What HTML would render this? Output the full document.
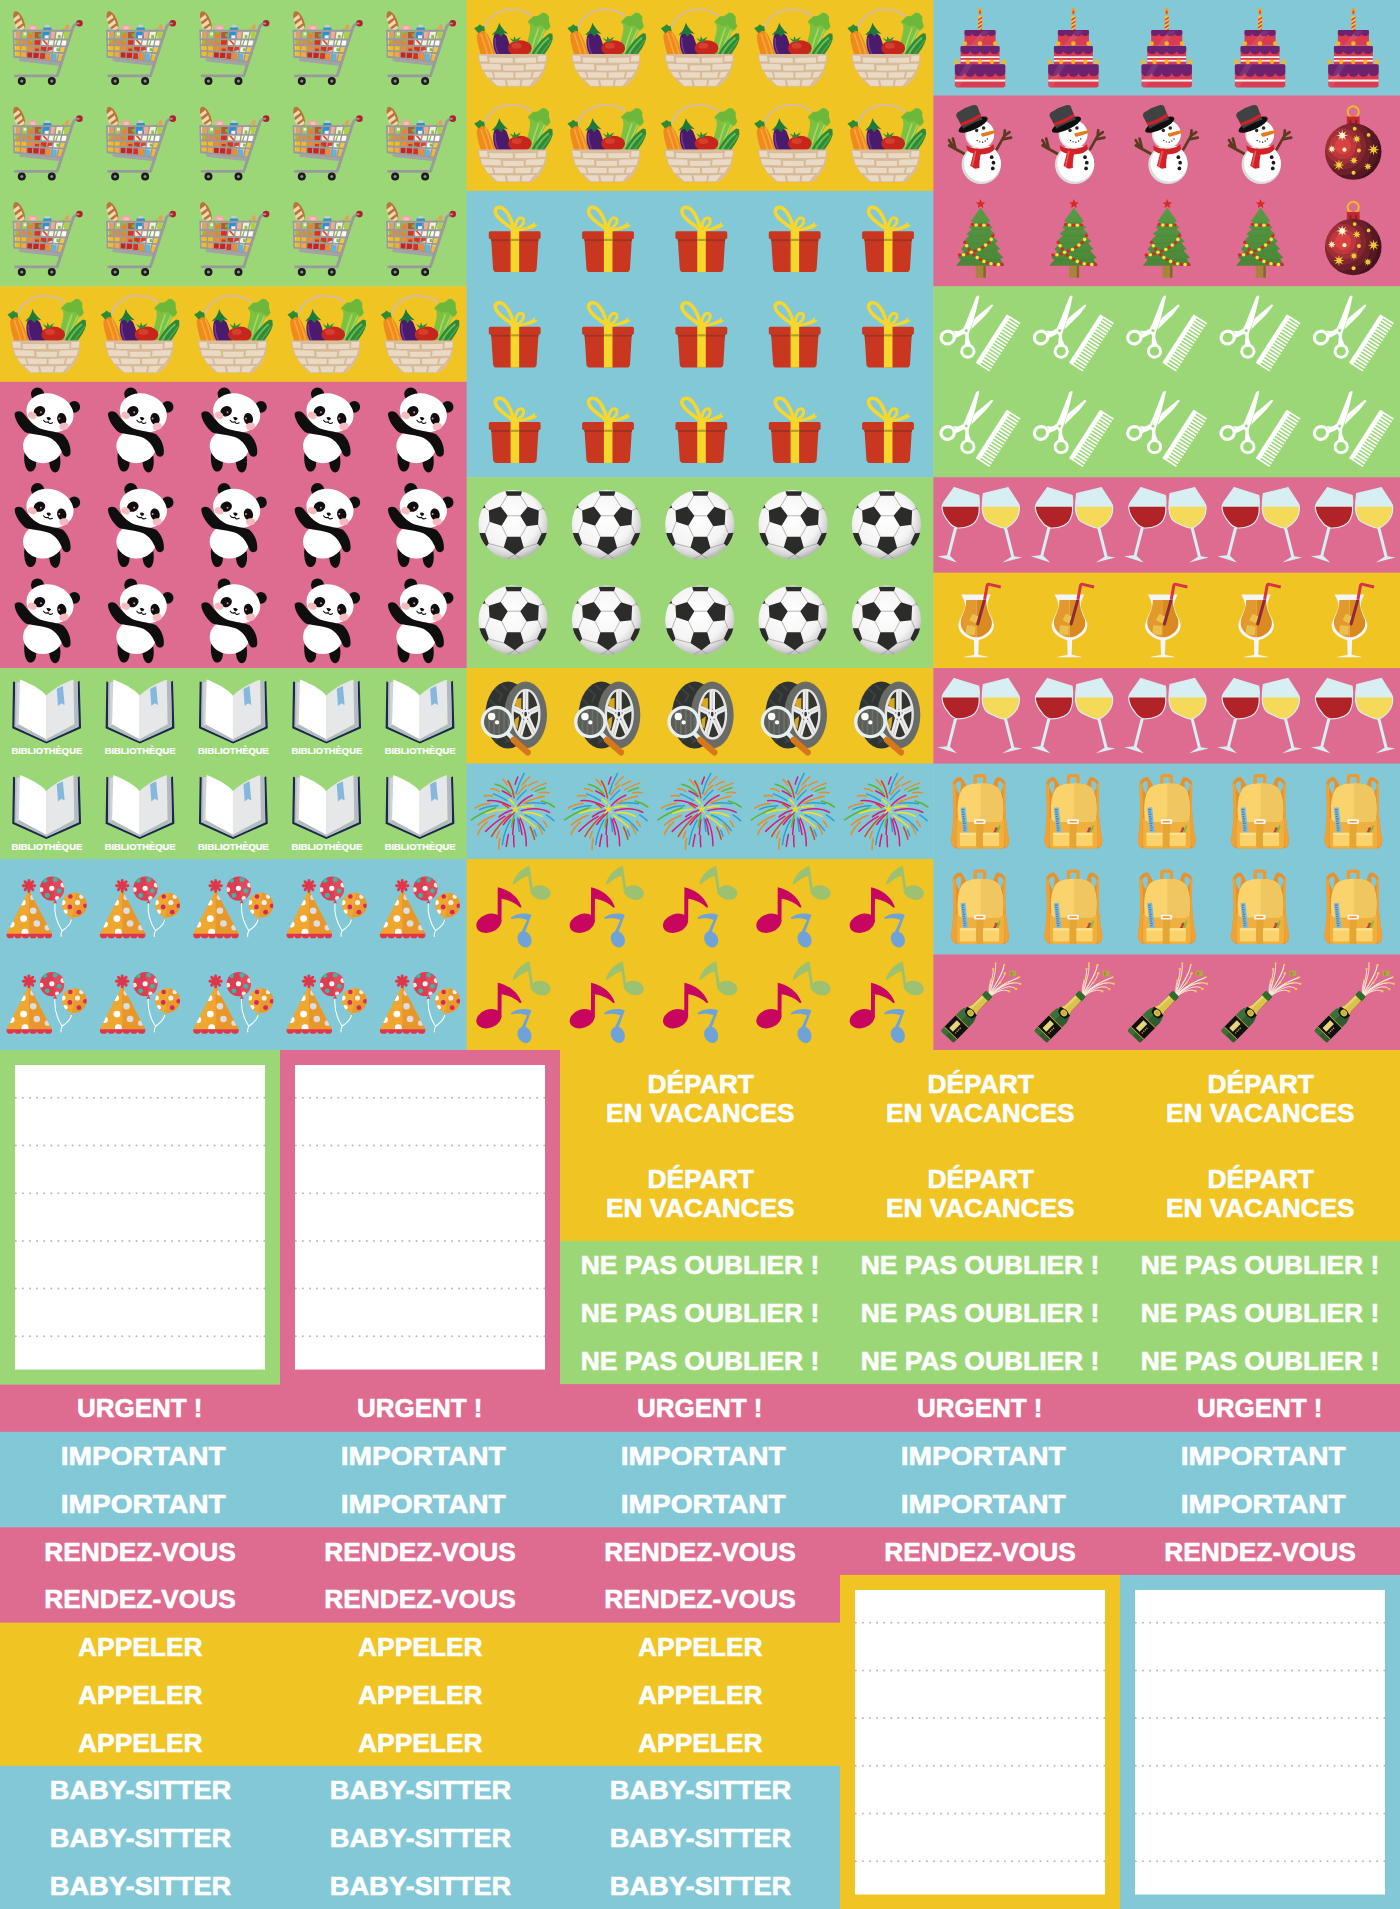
<!DOCTYPE html>
<html><head><meta charset="utf-8"><title>Stickers</title>
<style>html,body{margin:0;padding:0;background:#fff}svg{display:block}
text{font-family:"Liberation Sans",sans-serif;font-weight:bold;fill:#fff;text-anchor:middle;stroke:#fff;stroke-width:.6px;stroke-linejoin:round}</style></head>
<body><svg width="1400" height="1909" viewBox="0 0 1400 1909">
<defs>
<g id="backpack" transform="translate(-1.4 -2.5) scale(0.0714286)">
<!-- handle -->
<path d="M605,320 L605,230 Q605,205 630,205 L712,205 Q738,205 738,230 L738,320" fill="none" stroke="#ee9a2e" stroke-width="46"/>
<!-- straps / sides -->
<path d="M480,340 C450,280 420,230 395,225 C350,225 300,270 292,310 C300,560 320,800 270,1090 C265,1180 300,1225 380,1225 L980,1225 C1060,1225 1085,1180 1078,1090 C1020,800 1020,560 1032,310 C1020,270 970,225 915,225 C890,235 870,290 860,340 L960,560 L380,560Z" fill="#e8912a"/>
<path d="M330,330 C345,290 385,270 400,285 C420,330 400,420 385,470 C360,430 335,380 330,330Z M1000,330 C985,290 945,270 930,285 C915,330 930,420 945,470 C975,430 995,380 1000,330Z" fill="#82c8d6"/>
<path d="M292,310 C300,560 320,800 270,1090 C268,1150 290,1200 330,1215 C340,900 350,600 330,330Z M1032,310 C1020,560 1020,800 1078,1090 C1080,1150 1060,1200 1020,1215 C1010,900 1000,600 1000,330Z" fill="#f0a235"/>
<!-- lower body -->
<path d="M345,800 L1005,800 L1012,1170 Q1012,1225 960,1225 L395,1225 Q340,1225 340,1170Z" fill="#efb040"/>
<rect x="622" y="860" width="100" height="365" fill="#e6a636"/>
<!-- ruler -->
<path d="M855,1000 L905,925 L925,940 L895,1005Z" fill="#d23a2e"/><path d="M900,1005 L945,890 L962,915 L930,1005Z" fill="#7cbf3e"/><path d="M870,960 L895,925 L905,945Z" fill="#3a6fb0"/>
<!-- flap -->
<path d="M365,790 C350,650 360,500 420,400 C470,330 560,315 680,315 C800,315 890,330 940,400 C1000,500 1005,650 992,790 C985,840 950,855 900,855 L455,855 C405,855 372,840 365,790Z" fill="#fad36c"/>
<path d="M680,315 C800,315 890,330 940,400 C1000,500 1005,650 992,790 C985,840 950,855 900,855 L680,855Z" fill="#f0c661"/>
<g transform="rotate(-6 455 830)"><rect x="420" y="650" width="68" height="370" fill="#7bb9de"/><path d="M430,680 h40 M430,712 h30 M430,744 h40 M430,776 h30 M430,808 h40 M430,840 h30 M430,872 h40 M430,904 h30 M430,936 h40 M430,968 h30" stroke="#3c6f9a" stroke-width="12"/></g>
<!-- buckle -->
<rect x="590" y="815" width="160" height="68" rx="14" fill="#f6f4f0"/><rect x="618" y="838" width="104" height="22" rx="6" fill="#ee9a2e"/>
<!-- pockets -->
<rect x="390" y="1005" width="226" height="185" rx="12" fill="#fad36c"/><rect x="715" y="1005" width="226" height="185" rx="12" fill="#fad36c"/>
<path d="M390,1020 Q390,1005 405,1005 L600,1005 Q616,1005 616,1020 L616,1035 L390,1035Z M715,1020 Q715,1005 730,1005 L925,1005 Q941,1005 941,1020 L941,1035 L715,1035Z" fill="#fbe08e"/>
</g>

<g id="ball" transform="translate(-1.8 -2.5) scale(0.0714286)">
<defs><radialGradient id="ballg" cx="0.45" cy="0.4" r="0.6"><stop offset="0" stop-color="#ffffff"/><stop offset="0.7" stop-color="#f4f4f4"/><stop offset="0.9" stop-color="#d4d4d4"/><stop offset="1" stop-color="#b8b8b8"/></radialGradient>
<clipPath id="ballclip"><circle cx="675" cy="700" r="485"/></clipPath></defs>
<circle cx="675" cy="700" r="485" fill="url(#ballg)"/>
<g clip-path="url(#ballclip)">
<g fill="none" stroke="#8f8f8f" stroke-width="9">
<path d="M590,295 L500,445 M780,295 L880,450 M600,575 L775,575 M515,715 L590,870 M865,720 L780,870 M335,500 L270,455 M1035,500 L1100,470 M345,660 L285,815 M1025,700 L1075,820 M545,1020 L335,965 M825,1025 L1010,965 M700,1120 L580,1190 M700,1120 L790,1180"/>
</g>
<g fill="#2b2b29">
<path d="M568,232 L802,232 L782,296 L588,296Z"/>
<path d="M335,500 L500,445 L600,575 L515,715 L345,660Z"/>
<path d="M775,575 L880,450 L1035,500 L1025,700 L865,720Z"/>
<path d="M590,870 L780,870 L825,1025 L700,1120 L545,1020Z"/>
<path d="M185,815 L285,815 L335,962 L300,1005 L210,900Z"/>
<path d="M1075,820 L1165,812 L1120,920 L1058,1003 L1010,962Z"/>
<path d="M232,478 L272,415 L288,462Z"/>
<path d="M1068,418 L1140,525 L1098,478Z"/>
</g></g>
</g>

<g id="basket" transform="translate(0 -2.2) scale(0.0714286)">
<defs><clipPath id="bkclip"><path d="M160,785 L1125,785 C1125,900 1110,1000 1050,1100 C1000,1180 950,1225 900,1245 L440,1245 C380,1225 330,1180 280,1100 C200,1000 165,900 160,785Z"/></clipPath></defs>
<path d="M258,420 C300,250 480,150 660,165 C760,170 850,200 905,255" fill="none" stroke="#d8bca2" stroke-width="28"/>
<!-- celery -->
<path d="M850,610 C880,520 900,420 880,370 L850,340 L880,310 L930,260 L990,255 L1060,205 L1110,215 L1150,260 L1150,330 L1175,400 L1140,450 L1100,470 C1060,560 1000,680 940,790 L850,790Z" fill="#7cc142"/>
<path d="M900,760 C930,640 970,520 1010,420 M950,780 C990,660 1040,540 1090,440" stroke="#a5d867" stroke-width="22" fill="none"/>
<path d="M860,330 L935,265 L1000,260 L1065,210 L1110,220 L1150,265 L1150,330 L1170,400 L1135,445 L1090,430 L1040,380 L960,400Z" fill="#6db83a"/>
<!-- zucchini -->
<path d="M915,775 C960,680 1060,560 1160,495 L1200,505 L1205,570 C1190,650 1130,740 1080,800 L920,800Z" fill="#2f8a3c"/>
<path d="M960,790 C1010,700 1090,610 1150,560" stroke="#6cc04a" stroke-width="26" fill="none"/>
<path d="M1040,790 C1090,720 1150,650 1185,590" stroke="#56ad3e" stroke-width="16" fill="none"/>
<!-- corn -->
<path d="M140,520 C180,440 260,440 300,520 C340,600 380,700 410,800 L200,800 C170,700 140,600 140,520Z" fill="#ee8a1e"/>
<path d="M200,500 C230,600 270,700 290,790 M260,490 C300,590 340,700 360,790" stroke="#f7a934" stroke-width="22" fill="none"/>
<path d="M105,425 L160,395 L185,370 L215,395 L245,400 L255,470 L215,460 L165,495Z" fill="#2d8a35"/>
<!-- eggplant -->
<path d="M385,520 C420,470 520,470 560,540 C600,640 620,720 640,800 L420,800 C380,740 350,620 385,520Z" fill="#4a1b6d"/>
<path d="M400,560 C390,640 410,720 440,780" stroke="#7a3a9c" stroke-width="20" fill="none"/>
<path d="M455,350 L480,400 L530,460 L580,505 L520,495 L480,545 L440,500 L350,520 L410,460 L440,400Z" fill="#1f7a3a"/>
<!-- tomato -->
<ellipse cx="745" cy="705" rx="165" ry="110" fill="#c7261d"/><ellipse cx="700" cy="670" rx="70" ry="40" fill="#dd4a35" opacity=".7"/>
<path d="M600,560 L655,590 L665,535 L690,585 L760,545 L720,605 L680,625 L640,610Z" fill="#2d8a35"/>
<!-- body -->
<g clip-path="url(#bkclip)">
<rect x="150" y="780" width="990" height="470" fill="#d9bd9c"/>
<g fill="#ead9c4" stroke="#d0b08a" stroke-width="8">
<path d="M165,800 L290,805 L300,900 L180,895Z"/><path d="M305,830 L650,835 L655,915 L320,915Z"/><path d="M670,835 L980,830 L975,915 L675,915Z"/><path d="M995,805 L1120,800 L1110,895 L985,900Z"/>
<path d="M190,915 L480,925 L490,1015 L215,1010Z"/><path d="M500,940 L810,940 L800,1025 L510,1025Z"/><path d="M825,925 L1105,915 L1075,1010 L815,1015Z"/>
<path d="M235,1030 L355,1035 L385,1130 L290,1120Z"/><path d="M370,1035 L660,1040 L660,1125 L395,1125Z"/><path d="M675,1040 L920,1035 L895,1125 L675,1125Z"/><path d="M935,1035 L1060,1025 L1000,1120 L910,1125Z"/>
<path d="M330,1140 L540,1145 L555,1240 L430,1240Z"/><path d="M555,1145 L760,1145 L745,1240 L575,1240Z"/><path d="M775,1145 L960,1135 L880,1240 L760,1240Z"/>
</g></g>
</g>

<g id="bauble" transform="translate(-6.67 -2.5) scale(0.0714286)">
<defs><radialGradient id="baubg" gradientUnits="userSpaceOnUse" cx="600" cy="745" r="560"><stop offset="0" stop-color="#d84242"/><stop offset="0.2" stop-color="#d84242"/><stop offset="0.21" stop-color="#bd383c"/><stop offset="0.32" stop-color="#bd383c"/><stop offset="0.33" stop-color="#9f2e36"/><stop offset="0.44" stop-color="#9f2e36"/><stop offset="0.45" stop-color="#84262f"/><stop offset="0.57" stop-color="#84262f"/><stop offset="0.58" stop-color="#6b1f29"/><stop offset="0.72" stop-color="#6b1f29"/><stop offset="0.73" stop-color="#561923"/><stop offset="0.88" stop-color="#561923"/><stop offset="0.89" stop-color="#45131c"/><stop offset="1" stop-color="#45131c"/></radialGradient></defs>
<circle cx="745" cy="265" r="78" fill="none" stroke="#e8c21f" stroke-width="26"/>
<path d="M655,330 L835,330 L835,440 L655,440Z" fill="#c1282f"/><rect x="690" y="375" width="30" height="60" fill="#8e1e28"/><rect x="770" y="375" width="30" height="60" fill="#8e1e28"/>
<circle cx="745" cy="820" r="396" fill="url(#baubg)"/>
<polygon points="590,513 601,567 648,537 618,584 672,595 618,606 648,653 601,623 590,677 579,623 532,653 562,606 508,595 562,584 532,537 579,567" fill="#fbefb5"/><polygon points="590,555 618,567 630,595 618,623 590,635 562,623 550,595 562,567" fill="#fdf6d0"/><polygon points="795,587 805,621 836,604 819,635 853,645 819,655 836,686 805,669 795,703 785,669 754,686 771,655 737,645 771,635 754,604 785,621" fill="#f0cf3a"/><polygon points="445,730 455,761 484,746 469,775 500,785 469,795 484,824 455,809 445,840 435,809 406,824 421,795 390,785 421,775 406,746 435,761" fill="#fbefb5"/><polygon points="1030,713 1042,765 1088,737 1060,783 1112,795 1060,807 1088,853 1042,825 1030,877 1018,825 972,853 1000,807 948,795 1000,783 972,737 1018,765" fill="#eec83a"/><polygon points="755,889 765,921 795,905 779,935 811,945 779,955 795,985 765,969 755,1001 745,969 715,985 731,955 699,945 731,935 715,905 745,921" fill="#f0cf3a"/><polygon points="545,930 556,982 602,953 573,999 625,1010 573,1021 602,1067 556,1038 545,1090 534,1038 488,1067 517,1021 465,1010 517,999 488,953 534,982" fill="#f0cf3a"/><polygon points="950,974 960,1006 990,990 974,1020 1006,1030 974,1040 990,1070 960,1054 950,1086 940,1054 910,1070 926,1040 894,1030 926,1020 910,990 940,1006" fill="#eec83a"/><circle cx="765" cy="500" r="26" fill="#f0cf3a"/><circle cx="960" cy="588" r="26" fill="#eec83a"/><circle cx="622" cy="795" r="30" fill="#fbefb5"/><circle cx="825" cy="805" r="28" fill="#f0cf3a"/><circle cx="750" cy="1118" r="28" fill="#f0cf3a"/>
</g>

<g id="book" transform="translate(0 -3.1) scale(0.0714286)">
<path d="M182,230 L172,885 L650,1100 L1135,885 L1115,222 L1085,240 L1100,865 L650,1070 L205,865 L212,240Z" fill="#1b2a4b"/>
<path d="M212,240 L280,225 L270,840 L650,1025 L1040,840 L1030,230 L1088,240 L1102,866 L650,1072 L204,866Z" fill="#b4bac3"/>
<path d="M232,245 L285,230 L268,835 L228,858Z" fill="#cdd2d8"/>
<path d="M280,205 C420,260 560,330 650,430 L650,1040 L262,830Z" fill="#ffffff"/>
<path d="M646,430 C740,340 880,260 1028,205 L1040,830 L646,1040Z" fill="#e5e7e9"/>
<path d="M795,335 L880,290 L905,560 L860,535 L812,575Z" fill="#86b8de"/>
<text x="655" y="1252" font-size="118" textLength="990" lengthAdjust="spacingAndGlyphs" style="stroke-width:3px">BIBLIOTHÈQUE</text>
</g>

<g id="cake" transform="translate(-1.3 0) scale(0.0714286)">
<defs><clipPath id="candle"><rect x="645" y="225" width="56" height="195" rx="12"/></clipPath></defs>
<ellipse cx="672" cy="160" rx="26" ry="50" fill="#f6a41e"/><ellipse cx="672" cy="172" rx="14" ry="30" fill="#e8463c"/>
<rect x="645" y="225" width="56" height="195" rx="12" fill="#f7c62a"/>
<g clip-path="url(#candle)" stroke="#e0364a" stroke-width="20"><path d="M630,290 L715,235 M630,345 L715,290 M630,400 L715,345 M630,455 L715,400"/></g>
<!-- top tier -->
<path d="M455,440 Q455,420 475,420 L870,420 Q890,420 890,440 L890,640 L455,640Z" fill="#da3b51"/>
<path d="M455,440 Q455,420 475,420 L870,420 Q890,420 890,440 L890,455 a54,42 0 0 1 -108,12 a54,42 0 0 1 -108,0 a54,42 0 0 1 -108,0 a54,42 0 0 1 -111,-12Z" fill="#6d2270"/>
<!-- mid tier -->
<path d="M400,665 Q400,645 420,645 L925,645 Q945,645 945,665 L945,895 L400,895Z" fill="#da3b51"/>
<rect x="400" y="788" width="545" height="24" fill="#fdf3ee"/><rect x="400" y="838" width="545" height="24" fill="#fdf3ee"/>
<path d="M400,665 Q400,645 420,645 L925,645 Q945,645 945,665 L945,700 a68,52 0 0 1 -136,10 a68,52 0 0 1 -136,0 a68,52 0 0 1 -136,0 a68,52 0 0 1 -137,-10Z" fill="#6d2270"/>
<!-- bottom tier -->
<path d="M320,920 Q320,898 342,898 L1003,898 Q1025,898 1025,920 L1025,1195 Q1025,1225 995,1225 L350,1225 Q320,1225 320,1195Z" fill="#da3b51"/>
<rect x="320" y="1114" width="705" height="28" fill="#fdf3ee"/>
<path d="M320,920 Q320,898 342,898 L1003,898 Q1025,898 1025,920 L1025,1005 a70,58 0 0 1 -141,10 a70,58 0 0 1 -141,0 a70,58 0 0 1 -141,0 a70,58 0 0 1 -141,0 a70,58 0 0 1 -141,-10Z" fill="#6d2270"/>
<path d="M700,430 L800,430 L640,640 L540,640Z M470,900 L560,900 L380,1220 L325,1220 L325,1150Z" fill="#fff" opacity=".08"/>
<g fill="#f5b81f"><circle cx="460" cy="610" r="32"/><circle cx="672" cy="610" r="32"/><circle cx="885" cy="610" r="32"/>
<circle cx="340" cy="866" r="32"/><circle cx="502" cy="866" r="32"/><circle cx="670" cy="866" r="32"/><circle cx="838" cy="866" r="32"/><circle cx="1002" cy="866" r="32"/></g>
</g>

<g id="cart" transform="translate(0 0) scale(0.0714286)">
<defs><clipPath id="cartclip"><path d="M195,440 L975,440 L862,868 L205,792Z"/></clipPath></defs>
<ellipse cx="268" cy="300" rx="66" ry="152" transform="rotate(-22 268 300)" fill="#b8743e"/>
<g fill="#f3d6ab"><path d="M186,262 L262,203 L282,247 L197,308Z"/><path d="M207,350 L300,278 L318,325 L222,395Z"/><path d="M232,432 L332,356 L348,398 L255,455Z"/></g>
<ellipse cx="458" cy="388" rx="66" ry="42" fill="#f3a4a2"/><ellipse cx="462" cy="392" rx="40" ry="22" fill="#f7c0ba"/>
<rect x="628" y="348" width="66" height="45" rx="8" fill="#c5cbd3"/><rect x="604" y="385" width="118" height="60" rx="14" fill="#2e90d2"/>
<path d="M905,400 C905,360 940,335 962,345 C975,370 965,410 950,420Z" fill="#ec9d5c"/>
<ellipse cx="808" cy="415" rx="26" ry="14" fill="#f1a392"/><ellipse cx="885" cy="415" rx="22" ry="12" fill="#8cc63f"/>
<g clip-path="url(#cartclip)">
<rect x="180" y="430" width="820" height="450" fill="#f4e9d2"/>
<g>
<rect x="215" y="440" width="90" height="105" fill="#d7a169"/><rect x="305" y="440" width="85" height="105" fill="#9ccb5a"/><rect x="330" y="455" width="40" height="40" fill="#f2ead8"/>
<rect x="390" y="440" width="90" height="105" fill="#ee7f22"/><rect x="400" y="440" width="50" height="40" fill="#7fbf3f"/>
<rect x="480" y="440" width="110" height="105" fill="#b45a32"/><rect x="540" y="470" width="45" height="45" fill="#6fb83a"/>
<rect x="590" y="440" width="120" height="105" fill="#2e90d2"/><rect x="625" y="495" width="60" height="45" fill="#f3efe6"/>
<rect x="710" y="440" width="75" height="105" fill="#f4a98f"/><rect x="785" y="440" width="110" height="105" fill="#eef0dc"/><rect x="810" y="490" width="40" height="50" fill="#8cc63f"/>
<rect x="895" y="440" width="90" height="105" fill="#a9d43c"/>
<rect x="215" y="545" width="85" height="90" fill="#f08a2a"/><rect x="215" y="545" width="40" height="60" fill="#8cc63f"/><rect x="300" y="545" width="85" height="90" fill="#c99058"/>
<rect x="385" y="545" width="95" height="90" fill="#ee7f22"/><rect x="420" y="555" width="40" height="35" fill="#7fbf3f"/>
<rect x="480" y="545" width="100" height="95" fill="#d9301f"/><rect x="580" y="545" width="110" height="100" fill="#f6e9dc"/><path d="M590,560 L660,640 L690,640 L620,560Z" fill="#e0442e"/>
<rect x="690" y="545" width="85" height="105" fill="#f7f3e4"/><rect x="775" y="545" width="175" height="110" fill="#fbfbf6"/><path d="M770,640 L800,560 L815,560 L790,645Z" fill="#7fbf3f"/><rect x="925" y="545" width="30" height="110" fill="#b7da52"/>
<rect x="215" y="630" width="160" height="85" fill="#f6bb1c"/><rect x="375" y="635" width="85" height="85" fill="#ee8c2c"/><rect x="460" y="640" width="95" height="90" fill="#ef7d22"/><rect x="490" y="680" width="55" height="45" fill="#d9301f"/>
<rect x="555" y="645" width="100" height="95" fill="#d9301f"/><rect x="565" y="700" width="40" height="35" fill="#5aa832"/><rect x="655" y="655" width="90" height="95" fill="#e23b28"/><path d="M640,740 Q720,670 800,720 L800,760 L640,760Z" fill="#cfdde6"/>
<rect x="745" y="660" width="95" height="100" fill="#f4f4ee"/><rect x="790" y="675" width="35" height="40" fill="#7fbf3f"/><rect x="840" y="665" width="80" height="100" fill="#f6c53a"/>
<rect x="215" y="715" width="70" height="85" fill="#f6bb1c"/><rect x="285" y="718" width="90" height="85" fill="#f2a93b"/><rect x="375" y="722" width="170" height="95" fill="#c9231e"/><rect x="545" y="735" width="85" height="95" fill="#d9301f"/>
<rect x="630" y="745" width="80" height="100" fill="#ee8c2c"/><rect x="710" y="755" width="85" height="100" fill="#5fb5dc"/><rect x="795" y="765" width="80" height="100" fill="#f4b53a"/>
</g></g>
<g stroke="#9a9a9c" fill="none" stroke-linecap="round">
<path d="M190,430 L985,430 M200,548 L955,552 M205,632 L935,652 M205,712 L912,745 M200,795 L865,872" stroke-width="27"/>
<path d="M190,430 L200,795" stroke-width="24"/>
<path d="M300,435 L285,805 M388,435 L372,815 M478,435 L455,825 M590,435 L545,835 M705,435 L630,845 M785,435 L712,855 M892,435 L795,865" stroke-width="19"/>
<path d="M290,838 L850,900" stroke-width="46" stroke="#a3a3a5"/>
<path d="M1100,325 Q1045,335 1025,375 L800,1063 L215,1063" stroke-width="40" stroke-linejoin="round"/>
</g>
<circle cx="1112" cy="325" r="46" fill="#b2202c"/><ellipse cx="1090" cy="328" rx="26" ry="14" fill="#9a9a9c"/>
<circle cx="305" cy="1135" r="56" fill="#1c1c1c"/><circle cx="305" cy="1135" r="22" fill="#8d8d8d"/>
<circle cx="725" cy="1135" r="56" fill="#1c1c1c"/><circle cx="725" cy="1135" r="22" fill="#8d8d8d"/>
</g>

<g id="champagne" transform="translate(-1.3 -2.5) scale(0.0714286)">
<g fill="none" stroke="#f8ecd6" stroke-linecap="round" stroke-width="13">
<path d="M805,585 C830,450 900,330 890,165"/><path d="M815,585 C880,450 990,330 1008,185" stroke-width="16"/><path d="M820,590 C900,470 1000,400 1018,300"/>
<path d="M825,595 C930,480 1100,400 1218,357" stroke-width="16"/><path d="M830,600 C960,470 1130,400 1232,445"/><path d="M835,605 C960,500 1110,450 1172,518"/>
<path d="M835,610 C920,540 1020,520 1072,548"/><path d="M805,580 C800,450 870,330 856,242"/><path d="M800,575 C790,500 810,440 822,402" stroke-width="10"/><path d="M812,580 C840,500 850,420 862,368" stroke-width="10"/><path d="M822,590 C870,520 920,470 950,432" stroke-width="10"/>
<path d="M828,596 C900,520 980,470 1045,432" stroke-width="10"/><path d="M830,600 C930,500 1060,440 1140,432" stroke-width="10"/>
</g>
<g fill="#f4c736"><circle cx="890" cy="160" r="16"/><circle cx="1010" cy="182" r="17"/><circle cx="1020" cy="298" r="18"/><circle cx="1222" cy="355" r="15"/><circle cx="1236" cy="446" r="17"/><circle cx="1175" cy="520" r="17"/><circle cx="1076" cy="550" r="18"/><circle cx="856" cy="238" r="17"/><circle cx="822" cy="402" r="16"/><circle cx="862" cy="366" r="15"/><circle cx="950" cy="432" r="16"/><circle cx="1045" cy="432" r="15"/><circle cx="1140" cy="432" r="15"/></g>
<rect x="1080" y="262" width="100" height="80" rx="10" fill="#b8a24c"/><rect x="1100" y="280" width="26" height="50" fill="#a08c3c"/>
<g transform="translate(226 1174) rotate(-45.6) scale(1.02 1.17)">
<!-- body -->
<path d="M0,-105 Q-22,-105 -22,-80 L-22,80 Q-22,105 0,105 L360,105 C440,100 470,60 540,50 L800,50 L800,-50 L540,-50 C470,-60 440,-100 360,-105Z" fill="#2f5c2d"/>
<path d="M0,-105 Q-22,-105 -22,-80 L-22,-20 L800,-10 L800,-50 L540,-50 C470,-60 440,-100 360,-105Z" fill="#3d6f38"/>
<!-- foil -->
<path d="M470,-72 C500,-58 520,-50 545,-50 L730,-46 L730,46 L545,50 C520,50 500,58 470,72 C455,40 455,-40 470,-72Z" fill="#dcc24a"/>
<path d="M470,-72 C500,-58 520,-50 545,-50 L730,-46 L730,-15 L470,-25Z" fill="#e8d468"/>
<!-- cap -->
<rect x="722" y="-54" width="86" height="108" rx="18" fill="#2e6b2e"/>
<!-- neck label -->
<path d="M395,-60 L470,-78 L492,0 L470,78 L395,60 L375,0Z" fill="#111"/>
<circle cx="438" cy="0" r="42" fill="#dcc24a"/><circle cx="438" cy="0" r="26" fill="#c9ae3a"/>
<!-- main label -->
<rect x="45" y="-106" width="235" height="212" fill="#111"/>
<rect x="45" y="-106" width="10" height="212" fill="#dcc24a"/><rect x="270" y="-106" width="10" height="212" fill="#dcc24a"/>
<rect x="85" y="-55" width="150" height="62" fill="#e8d478"/>
<g fill="#c9ae3a"><circle cx="100" cy="40" r="9"/><circle cx="130" cy="40" r="9"/><circle cx="160" cy="40" r="9"/><circle cx="190" cy="40" r="9"/></g>
</g>
</g>

<g id="cocktail" transform="translate(-1.3 -2.9) scale(0.0714286)">
<defs><clipPath id="ckclip"><path d="M478,420 L758,420 C755,520 790,600 830,690 C860,790 810,880 700,930 L640,950 L600,950 L540,930 C430,880 380,790 405,690 C445,600 480,520 478,420Z"/></clipPath></defs>
<path d="M410,345 L822,345 C800,400 770,450 775,520 C790,600 850,680 866,760 C880,880 760,960 655,985 L648,1190 C700,1205 770,1210 795,1225 L440,1225 C470,1210 540,1205 592,1190 L585,985 C480,960 355,880 370,760 C385,680 445,600 462,520 C468,450 435,400 410,345Z" fill="#f3f5f8"/>
<g clip-path="url(#ckclip)"><rect x="380" y="420" width="240" height="540" fill="#e39a2c"/><rect x="620" y="420" width="260" height="540" fill="#db8a1f"/>
<rect x="540" y="630" width="100" height="105" rx="12" transform="rotate(28 590 682)" fill="#ebc14b"/><rect x="478" y="782" width="128" height="128" rx="18" transform="rotate(5 540 845)" fill="#ebc04a"/>
<path d="M640,760 L735,420" stroke="#8e2a3b" stroke-width="42" stroke-linecap="round"/></g>
<path d="M735,420 L770,230 Q775,200 805,205 L962,242" fill="none" stroke="#d7344b" stroke-width="42" stroke-linejoin="round" stroke-linecap="butt"/>
</g>

<g id="firework" transform="translate(-1.8 -3.6) scale(0.0714286)" fill="none" stroke-width="21" stroke-linecap="round">
<path d="M715,470 Q750,330 830,190 M590,570 Q500,510 400,475 M460,640 Q310,640 205,695 M860,425 Q790,480 730,560 M1125,615 Q1000,590 850,605 M1245,850 Q1190,800 1140,770 M1115,990 Q1010,830 840,770 M1000,1065 Q990,1025 970,985 M760,1000 Q750,900 735,810 M525,1185 Q550,1000 640,840" stroke="#2d9fd8"/>
<path d="M705,340 Q715,290 740,240 M650,510 Q590,460 525,435 M640,650 Q480,560 320,570 M945,495 Q830,540 745,640 M1185,735 Q1020,650 790,710 M860,1200 Q860,980 775,820 M800,1045 Q785,940 755,835 M690,1215 Q680,1140 685,1060 M670,1045 Q675,940 690,830 M580,1210 Q590,1130 610,1045 M290,1000 Q430,860 560,790 M480,795 Q560,730 660,705 M540,905 Q610,810 690,740" stroke="#d6197f"/>
<path d="M800,350 Q850,285 910,235 M600,355 Q570,310 530,270 M480,440 Q430,400 365,405 M390,505 Q330,490 270,505 M350,610 Q220,620 140,675 M860,355 Q790,400 740,490 M1015,300 Q950,320 895,355 M1140,325 Q1020,360 930,420 M1175,458 Q1110,450 1045,458 M1110,510 Q950,540 820,610 M1150,935 Q1130,890 1100,855 M1085,1035 Q1060,960 1015,895 M475,1255 Q470,1180 490,1100 M445,1095 Q455,1045 480,1000 M185,910 Q290,820 420,775 M180,1045 Q220,940 310,870" stroke="#ee8a1e"/>
<path d="M690,530 Q670,400 605,295 M610,670 Q570,635 530,615 M975,1110 Q955,1020 915,940 M375,1070 Q470,900 640,760" stroke="#d9461a"/>
<path d="M640,480 Q560,370 425,340 M430,670 Q230,740 90,840 M1125,390 Q1050,410 985,440 M1255,660 Q1180,600 1075,575 M655,940 Q665,860 690,775" stroke="#5db52b"/>
<path d="M570,690 Q420,700 300,745 M680,610 Q655,575 620,550 M960,645 Q870,645 790,665 M1080,790 Q980,730 830,735 M985,940 Q880,840 770,775" stroke="#f7e21c"/>
<path d="M705,690 L705,630 M705,690 L760,665 M705,690 L745,740 M705,690 L660,740 M705,690 L650,665" stroke="#f7e21c" stroke-width="16"/><circle cx="705" cy="690" r="26" fill="#f7d81c" stroke="none"/>
</g>

<g id="gift" transform="translate(-1.8 -2.9) scale(0.0714286)">
<path d="M368,715 L1030,715 L1005,1130 Q1000,1178 955,1178 L445,1178 Q400,1178 395,1130Z" fill="#c93721"/>
<rect x="368" y="712" width="662" height="32" fill="#9f3220"/>
<rect x="335" y="605" width="725" height="112" rx="22" fill="#c93721"/>
<rect x="640" y="600" width="120" height="578" fill="#f8d72c"/><rect x="640" y="712" width="120" height="30" fill="#b89a28"/>
<g fill="none" stroke="#f8d72c" stroke-linecap="round" stroke-linejoin="round">
<path d="M690,590 C600,520 430,420 425,330 C425,270 490,255 540,290 C610,340 660,470 690,590Z" stroke-width="50"/>
<path d="M705,590 C700,520 720,440 770,420 C830,410 840,470 800,520 C770,555 735,575 705,590Z" stroke-width="40"/>
</g>
<path d="M700,600 C780,560 880,545 950,500 L975,470 L985,520 L1020,510 C990,560 900,590 760,605Z" fill="#f8d72c"/>
<ellipse cx="700" cy="598" rx="45" ry="28" fill="#f8d72c"/>
</g>

<g id="music" transform="translate(-1.8 -3.2) scale(0.0714286)">
<!-- green -->
<ellipse cx="1065" cy="515" rx="138" ry="100" transform="rotate(12 1065 515)" fill="#9cc171"/>
<path d="M905,140 L962,520 L925,540 L886,280 C826,298 750,342 690,400 L668,395 C690,290 790,180 905,140Z" fill="#9cc171"/>
<!-- magenta -->
<ellipse cx="335" cy="945" rx="180" ry="128" transform="rotate(-20 335 945)" fill="#c8065f"/>
<path d="M460,440 C600,470 740,560 795,720 L770,725 C715,668 620,618 515,603 L512,930 L458,930Z" fill="#c8065f"/>
<!-- blue -->
<ellipse cx="835" cy="1170" rx="95" ry="118" transform="rotate(-25 835 1170)" fill="#6fa3d8"/>
<path d="M932,830 L835,1090 L790,1075 L870,898 C810,872 720,870 650,885 L645,865 C720,810 840,790 932,830Z" fill="#6fa3d8"/>
</g>

<g id="panda" transform="translate(0 -1.8) scale(0.0714286)">
<circle cx="525" cy="198" r="92" fill="#0e0e0e"/><circle cx="1040" cy="378" r="82" fill="#0e0e0e"/>
<!-- legs -->
<path d="M345,1010 C330,1100 340,1230 395,1275 C450,1300 500,1260 505,1180 L510,1100Z" fill="#0e0e0e"/>
<path d="M690,1140 C690,1220 720,1290 775,1295 C830,1290 850,1200 845,1120 L840,1060Z" fill="#0e0e0e"/>
<ellipse cx="600" cy="925" rx="278" ry="240" fill="#fff"/>
<ellipse cx="700" cy="462" rx="335" ry="268" transform="rotate(17 700 462)" fill="#fff"/>
<!-- arms band -->
<path d="M205,470 C225,430 290,425 330,470 C400,560 470,640 560,680 C680,720 820,730 880,760 C960,830 1000,950 985,1040 C960,1090 900,1085 875,1030 C840,930 780,850 700,810 C600,770 450,760 370,740 C300,700 200,560 205,470Z" fill="#0e0e0e"/>
<ellipse cx="553" cy="438" rx="82" ry="70" transform="rotate(-25 553 438)" fill="#0e0e0e"/>
<ellipse cx="865" cy="545" rx="64" ry="84" transform="rotate(-12 865 545)" fill="#0e0e0e"/>
<circle cx="572" cy="452" r="14" fill="#e9829a"/><circle cx="830" cy="540" r="14" fill="#e9829a"/>
<ellipse cx="452" cy="495" rx="62" ry="48" transform="rotate(25 452 495)" fill="#f6b9bd"/>
<ellipse cx="895" cy="650" rx="64" ry="50" transform="rotate(-10 895 650)" fill="#f6b9bd"/>
<path d="M650,525 Q685,510 715,540 Q700,565 680,568 Q658,555 650,525Z" fill="#0e0e0e"/>
<path d="M610,565 Q635,605 675,585 Q690,625 735,600" fill="none" stroke="#0e0e0e" stroke-width="16" stroke-linecap="round"/>
</g>

<g id="party" transform="translate(0 -3.2) scale(0.0714286)">
<defs><clipPath id="hatclip"><path d="M405,480 L728,1095 L90,1095Z"/></clipPath>
<clipPath id="b1clip"><circle cx="728" cy="460" r="170"/></clipPath><clipPath id="b2clip"><circle cx="1040" cy="690" r="172"/></clipPath></defs>
<path d="M770,650 C755,800 790,930 870,1050 C855,1080 850,1100 855,1130 M1000,885 C995,960 930,1010 870,1050" fill="none" stroke="#fff" stroke-width="15" stroke-linecap="round"/>
<!-- hat -->
<path d="M405,480 L728,1095 L90,1095Z" fill="#f0a730"/><path d="M405,480 L728,1095 L405,1095Z" fill="#e8982b"/>
<g clip-path="url(#hatclip)" fill="#fff"><circle cx="318" cy="655" r="42"/><circle cx="462" cy="580" r="40" fill="#dddde0"/><circle cx="465" cy="770" r="46" fill="#dddde0"/><circle cx="330" cy="880" r="48"/><circle cx="515" cy="948" r="46" fill="#dddde0"/><circle cx="160" cy="960" r="44"/><circle cx="350" cy="1070" r="48"/><circle cx="665" cy="1005" r="40" fill="#dddde0"/></g>
<path d="M92,1093 H728 V1112 a53,44 0 0 1 -106,0 a53,44 0 0 1 -106,0 a53,44 0 0 1 -106,0 a53,44 0 0 1 -106,0 a53,44 0 0 1 -106,0 a53,44 0 0 1 -106,0 Z" fill="#e0364a"/>
<rect x="88" y="1060" width="645" height="34" fill="none"/>
<g stroke="#e0364a" stroke-width="40" stroke-linecap="round"><path d="M405,345 L405,500 M325,420 L485,420 M350,365 L460,475 M460,365 L350,475"/></g><circle cx="405" cy="420" r="45" fill="#e0364a"/>
<!-- red balloon -->
<circle cx="728" cy="460" r="170" fill="#dd3d52"/>
<g clip-path="url(#b1clip)"><path d="M728,290 L900,290 L900,640 L770,640Z" fill="#e24a5c"/>
<circle cx="630" cy="345" r="32" fill="#3cb6a6"/><circle cx="775" cy="335" r="34" fill="#3cb6a6"/><circle cx="880" cy="410" r="34" fill="#f3ece6"/><circle cx="725" cy="455" r="36" fill="#fff"/><circle cx="575" cy="475" r="34" fill="#f6e6e6"/><circle cx="828" cy="492" r="34" fill="#3cb6a6"/><circle cx="662" cy="555" r="34" fill="#3cb6a6"/><circle cx="800" cy="595" r="30" fill="#f3ece6"/></g>
<path d="M770,620 L745,665 L800,665Z" fill="#dd3d52"/>
<!-- orange balloon -->
<circle cx="1040" cy="690" r="172" fill="#f0a730"/>
<g clip-path="url(#b2clip)"><path d="M1060,518 L1220,518 L1220,870 L1010,870Z" fill="#e99a2c"/>
<circle cx="985" cy="570" r="32" fill="#d4285e"/><circle cx="1140" cy="572" r="32" fill="#f3ece6"/><circle cx="885" cy="655" r="34" fill="#fff"/><circle cx="1085" cy="655" r="36" fill="#f6ece6"/><circle cx="1195" cy="700" r="32" fill="#d4285e"/><circle cx="978" cy="718" r="34" fill="#d4285e"/><circle cx="915" cy="785" r="32" fill="#fff"/><circle cx="1105" cy="790" r="34" fill="#d4285e"/></g>
<path d="M1000,855 L975,892 L1025,892Z" fill="#f0a730"/>
</g>

<g id="scissors" transform="translate(-1.5 -2.5) scale(0.0714286)" fill="#fff">
<path d="M846,288 C835,287 828,292 822,299 L606,477 L585,512 L548,640 L760,432 L853,312 C856,300 853,292 846,288Z"/>
<path d="M654,163 C640,164 628,172 619,184 L542,381 L466,573 C442,612 430,645 440,678 C456,702 470,716 471,742 L462,850 L548,850 L517,765 L517,707 C525,680 532,660 537,643 L562,573 L594,470 L632,323 L664,178 C665,170 661,164 654,163Z"/>
<ellipse cx="504" cy="944" rx="86" ry="84" fill="none" stroke="#fff" stroke-width="40"/>
<path d="M470,640 C440,690 390,700 335,725" fill="none" stroke="#fff" stroke-width="56" stroke-linecap="round"/>
<path d="M430,625 C400,660 350,668 300,655 L330,700 L440,680Z"/>
<ellipse cx="222" cy="752" rx="94" ry="88" fill="none" stroke="#fff" stroke-width="44" transform="rotate(-20 222 752)"/>
<circle cx="482" cy="653" r="21" fill="#9bd777"/>
<g transform="translate(1050 425) rotate(122.7)">
<rect x="0" y="-64" width="809" height="64" rx="12"/>
<path d="M0.0,-60 h24 v-168 h-24Z M46.2,-60 h24 v-168 h-24Z M92.4,-60 h24 v-168 h-24Z M138.5,-60 h24 v-168 h-24Z M184.7,-60 h24 v-168 h-24Z M230.9,-60 h24 v-168 h-24Z M277.1,-60 h24 v-168 h-24Z M323.2,-60 h24 v-168 h-24Z M369.4,-60 h24 v-168 h-24Z M415.6,-60 h24 v-168 h-24Z M461.8,-60 h24 v-168 h-24Z M507.9,-60 h24 v-168 h-24Z M554.1,-60 h24 v-168 h-24Z M600.3,-60 h24 v-168 h-24Z M646.5,-60 h24 v-168 h-24Z M692.6,-60 h24 v-168 h-24Z M738.8,-60 h24 v-168 h-24Z M785.0,-60 h24 v-168 h-24Z "/>
</g>
</g>

<g id="snowman" transform="translate(-1.3 -2.5) scale(0.0714286)">
<g stroke="#5c3a21" stroke-width="38" stroke-linecap="round" fill="none"><path d="M500,880 L240,735 M330,785 L292,640 M300,765 L238,660 M905,790 L1012,600 M1012,600 L1020,525 M1012,600 L1085,548 M985,650 L1108,625"/></g>
<circle cx="690" cy="1000" r="276" fill="#d9dddc"/><circle cx="705" cy="985" r="258" fill="#fff"/>
<circle cx="668" cy="580" r="202" fill="#e3e6e5"/><circle cx="678" cy="575" r="190" fill="#fff"/>
<!-- scarf -->
<path d="M480,730 C540,800 800,800 860,715 L875,790 C800,890 560,880 490,800Z" fill="#d3212a"/>
<path d="M600,785 C640,770 680,790 690,820 C670,900 660,980 665,1050 L600,1060 L535,1020 C560,940 570,860 600,785Z" fill="#d3212a"/>
<path d="M610,820 C590,900 575,960 565,1020" stroke="#ee5a5a" stroke-width="22" fill="none" stroke-linecap="round"/>
<!-- hat -->
<g transform="rotate(-25 575 445)"><ellipse cx="575" cy="445" rx="222" ry="70" fill="#0f0f10"/>
<path d="M425,445 L412,235 Q420,205 455,198 Q575,175 695,198 Q730,205 738,235 L725,445Z" fill="#3f4143"/><path d="M421,390 L418,345 Q575,372 732,345 L729,390 Q575,418 421,390Z" fill="#d3212a"/>
<path d="M353,445 Q575,525 797,445 Q575,405 353,445Z" fill="#0f0f10"/></g>
<circle cx="625" cy="525" r="24" fill="#2a2a2a"/><circle cx="722" cy="490" r="25" fill="#2a2a2a"/>
<path d="M690,565 C760,545 850,520 905,525 C915,535 910,550 900,555 C840,580 770,605 710,615 C690,605 685,585 690,565Z" fill="#e27a20"/>
<g fill="#2a2a2a"><circle cx="632" cy="665" r="10"/><circle cx="668" cy="685" r="10"/><circle cx="708" cy="690" r="10"/><circle cx="745" cy="672" r="10"/><circle cx="775" cy="645" r="10"/></g>
<circle cx="835" cy="900" r="26" fill="#1c1c1c"/><circle cx="860" cy="977" r="26" fill="#1c1c1c"/><circle cx="850" cy="1057" r="26" fill="#1c1c1c"/>
</g>

<g id="tire" transform="translate(-1.8 -3.2) scale(0.0714286)">
<defs><clipPath id="rimclip"><ellipse cx="855" cy="690" rx="188" ry="340"/></clipPath><clipPath id="lensclip"><circle cx="450" cy="800" r="185"/></clipPath></defs>
<ellipse cx="605" cy="702" rx="318" ry="468" fill="#2f3433"/>
<g stroke="#3e4341" stroke-width="26" fill="none"><path d="M420,330 L520,420 L470,520 M340,480 L440,580 M520,280 L600,360 M420,1060 L520,980 L620,1080 M560,1100 L640,1020"/></g>
<ellipse cx="850" cy="700" rx="300" ry="466" fill="#696b67"/>
<ellipse cx="855" cy="690" rx="188" ry="340" fill="#33352f"/>
<g clip-path="url(#rimclip)">
<path d="M700,480 L790,460 L790,640 L700,560Z" fill="#d9a81a"/><path d="M700,760 L760,720 L740,900 L700,860Z" fill="#d9a81a"/>
<g stroke="#ececec" stroke-width="78" stroke-linecap="butt"><path d="M850,690 L850,340 M850,690 L1060,590 M850,690 L990,1000 M850,690 L760,1010 M850,690 L670,600"/></g>
<g stroke="#c9c9c9" stroke-width="14"><path d="M850,690 L850,350 M850,690 L1050,595 M850,690 L985,990 M850,690 L765,1000 M850,690 L680,605"/></g>
<circle cx="850" cy="690" r="75" fill="#ececec"/><ellipse cx="850" cy="690" rx="18" ry="34" fill="#2f3433"/>
<g fill="#5b3a7a"><circle cx="850" cy="622" r="8"/><circle cx="895" cy="672" r="8"/><circle cx="876" cy="760" r="8"/><circle cx="824" cy="760" r="8"/><circle cx="806" cy="672" r="8"/></g>
</g>
<ellipse cx="855" cy="690" rx="188" ry="340" fill="none" stroke="#e4e4e4" stroke-width="34"/>
<path d="M600,960 L700,1060" stroke="#e3eeec" stroke-width="60"/>
<path d="M680,1050 L880,1225" stroke="#d5771d" stroke-width="86" stroke-linecap="round"/>
<circle cx="450" cy="800" r="185" fill="#5b5d59"/>
<g clip-path="url(#lensclip)" stroke="#6d6f6b" stroke-width="22"><path d="M340,600 L340,1000 M410,600 L410,1000 M480,600 L480,1000 M550,600 L550,1000 M610,600 L610,1000"/></g>
<circle cx="450" cy="800" r="205" fill="none" stroke="#e6f0ee" stroke-width="46"/>
<circle cx="375" cy="722" r="52" fill="#fff"/><circle cx="450" cy="805" r="30" fill="#fff"/>
</g>

<g id="tree" transform="translate(-1.5 -2.9) scale(0.0714286)">
<defs><linearGradient id="treeg" x1="0" y1="0" x2="0" y2="1"><stop offset="0" stop-color="#5a9a46"/><stop offset="1" stop-color="#4a8636"/></linearGradient></defs>
<rect x="615" y="1090" width="140" height="166" fill="#a8843f"/><rect x="722" y="1090" width="33" height="166" fill="#866628"/>
<path d="M683,275 L820,465 L775,487 L855,555 L810,577 L885,640 L840,662 L925,750 L880,772 L955,855 L910,877 L1000,975 L955,997 L1020,1090 L340,1090 L410,1002 L365,980 L450,882 L405,860 L485,772 L440,750 L525,667 L480,645 L560,577 L515,555 L590,487 L545,465Z" fill="url(#treeg)"/>
<g stroke="#447c32" stroke-width="8" opacity=".6"><path d="M590,490 L790,490 M560,580 L820,580 M520,670 L850,668 M480,775 L890,775 M445,885 L920,882 M410,1005 L960,1000"/></g>
<polygon points="683,155 701,201 750,203 712,234 724,282 683,255 642,282 654,234 616,203 665,201" fill="#d42a21"/><g fill="#d8262a"><circle cx="567" cy="512" r="24"/><circle cx="680" cy="523" r="24"/><circle cx="790" cy="520" r="24"/><circle cx="857" cy="667" r="24"/><circle cx="797" cy="765" r="24"/><circle cx="710" cy="830" r="24"/><circle cx="605" cy="882" r="24"/><circle cx="497" cy="920" r="24"/><circle cx="388" cy="938" r="24"/><circle cx="462" cy="762" r="24"/><circle cx="520" cy="857" r="24"/><circle cx="588" cy="938" r="24"/><circle cx="682" cy="1003" r="24"/><circle cx="775" cy="1050" r="24"/><circle cx="882" cy="1070" r="24"/><circle cx="983" cy="1070" r="24"/></g><g fill="#f4e43c"><circle cx="620" cy="518" r="25"/><circle cx="730" cy="523" r="25"/><circle cx="832" cy="720" r="25"/><circle cx="752" cy="800" r="25"/><circle cx="662" cy="862" r="25"/><circle cx="552" cy="900" r="25"/><circle cx="445" cy="935" r="25"/><circle cx="488" cy="808" r="25"/><circle cx="635" cy="975" r="25"/><circle cx="730" cy="1028" r="25"/><circle cx="828" cy="1062" r="25"/><circle cx="932" cy="1072" r="25"/></g>
</g>

<g id="wine" transform="translate(-1.4 -2.5) scale(0.0714286)">
<defs><clipPath id="w1"><path d="M310,180 L655,290 C665,340 665,400 660,450 C665,500 660,540 650,570 C630,640 590,690 540,710 C470,740 400,750 350,745 C300,730 260,700 235,660 C190,610 150,540 142,470 C138,440 150,410 165,385Z"/></clipPath>
<clipPath id="w2"><path d="M720,265 L1065,180 L1195,380 C1215,410 1228,440 1225,470 C1225,520 1215,560 1195,600 C1160,660 1100,720 1025,750 C980,745 930,730 880,705 C820,680 770,660 745,620 C715,570 702,510 705,450 C705,390 712,320 720,265Z"/></clipPath></defs>
<g fill="#d7eef2">
<path d="M310,180 L655,290 C665,340 665,400 660,450 C665,500 660,540 650,570 C630,640 590,690 540,710 C470,740 400,750 350,745 C300,730 260,700 235,660 C190,610 150,540 142,470 C138,440 150,410 165,385Z"/>
<path d="M310,740 L352,748 L252,1135 L350,1228 L78,1143 L212,1128Z"/>
<path d="M720,265 L1065,180 L1195,380 C1215,410 1228,440 1225,470 C1225,520 1215,560 1195,600 C1160,660 1100,720 1025,750 C980,745 930,730 880,705 C820,680 770,660 745,620 C715,570 702,510 705,450 C705,390 712,320 720,265Z"/>
<path d="M1008,745 L1050,740 L1152,1142 L1262,1160 L988,1228 L1110,1150Z"/>
</g>
<g clip-path="url(#w1)"><path d="M140,448 L670,448 L670,760 L140,760Z" fill="#b22327" stroke="#d7eef2" stroke-width="0"/></g>
<g clip-path="url(#w2)"><path d="M700,448 L1240,448 L1240,760 L700,760Z" fill="#f5d958"/></g>
<path d="M310,180 L655,290 C665,340 665,400 660,450 C665,500 660,540 650,570 C630,640 590,690 540,710 C470,740 400,750 350,745 C300,730 260,700 235,660 C190,610 150,540 142,470 C138,440 150,410 165,385Z" fill="none" stroke="#d7eef2" stroke-width="16"/>
<path d="M720,265 L1065,180 L1195,380 C1215,410 1228,440 1225,470 C1225,520 1215,560 1195,600 C1160,660 1100,720 1025,750 C980,745 930,730 880,705 C820,680 770,660 745,620 C715,570 702,510 705,450 C705,390 712,320 720,265Z" fill="none" stroke="#d7eef2" stroke-width="16"/>
</g>

</defs>
<rect x="0.00" y="0.00" width="467.17" height="286.82" fill="#9bd777"/>
<rect x="0.00" y="286.32" width="467.17" height="95.94" fill="#f0c422"/>
<rect x="0.00" y="381.76" width="467.17" height="286.82" fill="#de6c91"/>
<rect x="0.00" y="668.08" width="467.17" height="191.38" fill="#9bd777"/>
<rect x="0.00" y="858.96" width="467.17" height="191.54" fill="#82c8d6"/>
<rect x="466.67" y="0.00" width="467.17" height="191.38" fill="#f0c422"/>
<rect x="466.67" y="190.88" width="467.17" height="286.82" fill="#82c8d6"/>
<rect x="466.67" y="477.20" width="467.17" height="191.38" fill="#9bd777"/>
<rect x="466.67" y="668.08" width="467.17" height="95.94" fill="#f0c422"/>
<rect x="466.67" y="763.52" width="467.17" height="95.94" fill="#82c8d6"/>
<rect x="466.67" y="858.96" width="467.17" height="191.54" fill="#f0c422"/>
<rect x="933.33" y="0.00" width="467.17" height="95.94" fill="#82c8d6"/>
<rect x="933.33" y="95.44" width="467.17" height="95.94" fill="#de6c91"/>
<rect x="933.33" y="190.88" width="467.17" height="95.94" fill="#de6c91"/>
<rect x="933.33" y="286.32" width="467.17" height="191.38" fill="#9bd777"/>
<rect x="933.33" y="477.20" width="467.17" height="95.94" fill="#de6c91"/>
<rect x="933.33" y="572.64" width="467.17" height="95.94" fill="#f0c422"/>
<rect x="933.33" y="668.08" width="467.17" height="95.94" fill="#de6c91"/>
<rect x="933.33" y="763.52" width="467.17" height="191.38" fill="#82c8d6"/>
<rect x="933.33" y="954.40" width="467.17" height="96.10" fill="#de6c91"/>
<rect x="560.00" y="1050.00" width="840.00" height="191.39" fill="#f0c422"/>
<rect x="560.00" y="1240.89" width="840.00" height="143.67" fill="#9bd777"/>
<rect x="0.00" y="1384.06" width="1400.00" height="48.22" fill="#de6c91"/>
<rect x="0.00" y="1431.78" width="1400.00" height="95.94" fill="#82c8d6"/>
<rect x="0.00" y="1527.22" width="1400.00" height="95.94" fill="#de6c91"/>
<rect x="0.00" y="1622.67" width="840.00" height="143.67" fill="#f0c422"/>
<rect x="0.00" y="1765.83" width="840.00" height="144.17" fill="#82c8d6"/>
<rect x="0.00" y="1050.00" width="280.00" height="334.56" fill="#9bd777"/>
<rect x="15.00" y="1065.00" width="250.00" height="304.56" fill="#ffffff"/>
<line x1="15.80" y1="1097.72" x2="265.00" y2="1097.72" stroke="#b9b9b9" stroke-width="2" stroke-linecap="round" stroke-dasharray="0 7.1"/>
<line x1="15.80" y1="1145.44" x2="265.00" y2="1145.44" stroke="#b9b9b9" stroke-width="2" stroke-linecap="round" stroke-dasharray="0 7.1"/>
<line x1="15.80" y1="1193.17" x2="265.00" y2="1193.17" stroke="#b9b9b9" stroke-width="2" stroke-linecap="round" stroke-dasharray="0 7.1"/>
<line x1="15.80" y1="1240.89" x2="265.00" y2="1240.89" stroke="#b9b9b9" stroke-width="2" stroke-linecap="round" stroke-dasharray="0 7.1"/>
<line x1="15.80" y1="1288.61" x2="265.00" y2="1288.61" stroke="#b9b9b9" stroke-width="2" stroke-linecap="round" stroke-dasharray="0 7.1"/>
<line x1="15.80" y1="1336.33" x2="265.00" y2="1336.33" stroke="#b9b9b9" stroke-width="2" stroke-linecap="round" stroke-dasharray="0 7.1"/>
<rect x="280.00" y="1050.00" width="280.00" height="334.56" fill="#de6c91"/>
<rect x="295.00" y="1065.00" width="250.00" height="304.56" fill="#ffffff"/>
<line x1="295.80" y1="1097.72" x2="545.00" y2="1097.72" stroke="#b9b9b9" stroke-width="2" stroke-linecap="round" stroke-dasharray="0 7.1"/>
<line x1="295.80" y1="1145.44" x2="545.00" y2="1145.44" stroke="#b9b9b9" stroke-width="2" stroke-linecap="round" stroke-dasharray="0 7.1"/>
<line x1="295.80" y1="1193.17" x2="545.00" y2="1193.17" stroke="#b9b9b9" stroke-width="2" stroke-linecap="round" stroke-dasharray="0 7.1"/>
<line x1="295.80" y1="1240.89" x2="545.00" y2="1240.89" stroke="#b9b9b9" stroke-width="2" stroke-linecap="round" stroke-dasharray="0 7.1"/>
<line x1="295.80" y1="1288.61" x2="545.00" y2="1288.61" stroke="#b9b9b9" stroke-width="2" stroke-linecap="round" stroke-dasharray="0 7.1"/>
<line x1="295.80" y1="1336.33" x2="545.00" y2="1336.33" stroke="#b9b9b9" stroke-width="2" stroke-linecap="round" stroke-dasharray="0 7.1"/>
<rect x="840.00" y="1574.94" width="280.00" height="334.56" fill="#f0c422"/>
<rect x="855.00" y="1589.94" width="250.00" height="304.56" fill="#ffffff"/>
<line x1="855.80" y1="1622.67" x2="1105.00" y2="1622.67" stroke="#b9b9b9" stroke-width="2" stroke-linecap="round" stroke-dasharray="0 7.1"/>
<line x1="855.80" y1="1670.39" x2="1105.00" y2="1670.39" stroke="#b9b9b9" stroke-width="2" stroke-linecap="round" stroke-dasharray="0 7.1"/>
<line x1="855.80" y1="1718.11" x2="1105.00" y2="1718.11" stroke="#b9b9b9" stroke-width="2" stroke-linecap="round" stroke-dasharray="0 7.1"/>
<line x1="855.80" y1="1765.83" x2="1105.00" y2="1765.83" stroke="#b9b9b9" stroke-width="2" stroke-linecap="round" stroke-dasharray="0 7.1"/>
<line x1="855.80" y1="1813.56" x2="1105.00" y2="1813.56" stroke="#b9b9b9" stroke-width="2" stroke-linecap="round" stroke-dasharray="0 7.1"/>
<line x1="855.80" y1="1861.28" x2="1105.00" y2="1861.28" stroke="#b9b9b9" stroke-width="2" stroke-linecap="round" stroke-dasharray="0 7.1"/>
<rect x="1120.00" y="1574.94" width="280.00" height="334.56" fill="#82c8d6"/>
<rect x="1135.00" y="1589.94" width="250.00" height="304.56" fill="#ffffff"/>
<line x1="1135.80" y1="1622.67" x2="1385.00" y2="1622.67" stroke="#b9b9b9" stroke-width="2" stroke-linecap="round" stroke-dasharray="0 7.1"/>
<line x1="1135.80" y1="1670.39" x2="1385.00" y2="1670.39" stroke="#b9b9b9" stroke-width="2" stroke-linecap="round" stroke-dasharray="0 7.1"/>
<line x1="1135.80" y1="1718.11" x2="1385.00" y2="1718.11" stroke="#b9b9b9" stroke-width="2" stroke-linecap="round" stroke-dasharray="0 7.1"/>
<line x1="1135.80" y1="1765.83" x2="1385.00" y2="1765.83" stroke="#b9b9b9" stroke-width="2" stroke-linecap="round" stroke-dasharray="0 7.1"/>
<line x1="1135.80" y1="1813.56" x2="1385.00" y2="1813.56" stroke="#b9b9b9" stroke-width="2" stroke-linecap="round" stroke-dasharray="0 7.1"/>
<line x1="1135.80" y1="1861.28" x2="1385.00" y2="1861.28" stroke="#b9b9b9" stroke-width="2" stroke-linecap="round" stroke-dasharray="0 7.1"/>
<use href="#cart" x="0.00" y="0.00"/>
<use href="#cart" x="93.33" y="0.00"/>
<use href="#cart" x="186.67" y="0.00"/>
<use href="#cart" x="280.00" y="0.00"/>
<use href="#cart" x="373.33" y="0.00"/>
<use href="#cart" x="0.00" y="95.44"/>
<use href="#cart" x="93.33" y="95.44"/>
<use href="#cart" x="186.67" y="95.44"/>
<use href="#cart" x="280.00" y="95.44"/>
<use href="#cart" x="373.33" y="95.44"/>
<use href="#cart" x="0.00" y="190.88"/>
<use href="#cart" x="93.33" y="190.88"/>
<use href="#cart" x="186.67" y="190.88"/>
<use href="#cart" x="280.00" y="190.88"/>
<use href="#cart" x="373.33" y="190.88"/>
<use href="#basket" x="0.00" y="286.32"/>
<use href="#basket" x="93.33" y="286.32"/>
<use href="#basket" x="186.67" y="286.32"/>
<use href="#basket" x="280.00" y="286.32"/>
<use href="#basket" x="373.33" y="286.32"/>
<use href="#panda" x="0.00" y="381.76"/>
<use href="#panda" x="93.33" y="381.76"/>
<use href="#panda" x="186.67" y="381.76"/>
<use href="#panda" x="280.00" y="381.76"/>
<use href="#panda" x="373.33" y="381.76"/>
<use href="#panda" x="0.00" y="477.20"/>
<use href="#panda" x="93.33" y="477.20"/>
<use href="#panda" x="186.67" y="477.20"/>
<use href="#panda" x="280.00" y="477.20"/>
<use href="#panda" x="373.33" y="477.20"/>
<use href="#panda" x="0.00" y="572.64"/>
<use href="#panda" x="93.33" y="572.64"/>
<use href="#panda" x="186.67" y="572.64"/>
<use href="#panda" x="280.00" y="572.64"/>
<use href="#panda" x="373.33" y="572.64"/>
<use href="#book" x="0.00" y="668.08"/>
<use href="#book" x="93.33" y="668.08"/>
<use href="#book" x="186.67" y="668.08"/>
<use href="#book" x="280.00" y="668.08"/>
<use href="#book" x="373.33" y="668.08"/>
<use href="#book" x="0.00" y="763.52"/>
<use href="#book" x="93.33" y="763.52"/>
<use href="#book" x="186.67" y="763.52"/>
<use href="#book" x="280.00" y="763.52"/>
<use href="#book" x="373.33" y="763.52"/>
<use href="#party" x="0.00" y="858.96"/>
<use href="#party" x="93.33" y="858.96"/>
<use href="#party" x="186.67" y="858.96"/>
<use href="#party" x="280.00" y="858.96"/>
<use href="#party" x="373.33" y="858.96"/>
<use href="#party" x="0.00" y="954.40"/>
<use href="#party" x="93.33" y="954.40"/>
<use href="#party" x="186.67" y="954.40"/>
<use href="#party" x="280.00" y="954.40"/>
<use href="#party" x="373.33" y="954.40"/>
<use href="#basket" x="466.67" y="0.00"/>
<use href="#basket" x="560.00" y="0.00"/>
<use href="#basket" x="653.33" y="0.00"/>
<use href="#basket" x="746.67" y="0.00"/>
<use href="#basket" x="840.00" y="0.00"/>
<use href="#basket" x="466.67" y="95.44"/>
<use href="#basket" x="560.00" y="95.44"/>
<use href="#basket" x="653.33" y="95.44"/>
<use href="#basket" x="746.67" y="95.44"/>
<use href="#basket" x="840.00" y="95.44"/>
<use href="#gift" x="466.67" y="190.88"/>
<use href="#gift" x="560.00" y="190.88"/>
<use href="#gift" x="653.33" y="190.88"/>
<use href="#gift" x="746.67" y="190.88"/>
<use href="#gift" x="840.00" y="190.88"/>
<use href="#gift" x="466.67" y="286.32"/>
<use href="#gift" x="560.00" y="286.32"/>
<use href="#gift" x="653.33" y="286.32"/>
<use href="#gift" x="746.67" y="286.32"/>
<use href="#gift" x="840.00" y="286.32"/>
<use href="#gift" x="466.67" y="381.76"/>
<use href="#gift" x="560.00" y="381.76"/>
<use href="#gift" x="653.33" y="381.76"/>
<use href="#gift" x="746.67" y="381.76"/>
<use href="#gift" x="840.00" y="381.76"/>
<use href="#ball" x="466.67" y="477.20"/>
<use href="#ball" x="560.00" y="477.20"/>
<use href="#ball" x="653.33" y="477.20"/>
<use href="#ball" x="746.67" y="477.20"/>
<use href="#ball" x="840.00" y="477.20"/>
<use href="#ball" x="466.67" y="572.64"/>
<use href="#ball" x="560.00" y="572.64"/>
<use href="#ball" x="653.33" y="572.64"/>
<use href="#ball" x="746.67" y="572.64"/>
<use href="#ball" x="840.00" y="572.64"/>
<use href="#tire" x="466.67" y="668.08"/>
<use href="#tire" x="560.00" y="668.08"/>
<use href="#tire" x="653.33" y="668.08"/>
<use href="#tire" x="746.67" y="668.08"/>
<use href="#tire" x="840.00" y="668.08"/>
<use href="#firework" x="466.67" y="763.52"/>
<use href="#firework" x="560.00" y="763.52"/>
<use href="#firework" x="653.33" y="763.52"/>
<use href="#firework" x="746.67" y="763.52"/>
<use href="#firework" x="840.00" y="763.52"/>
<use href="#music" x="466.67" y="858.96"/>
<use href="#music" x="560.00" y="858.96"/>
<use href="#music" x="653.33" y="858.96"/>
<use href="#music" x="746.67" y="858.96"/>
<use href="#music" x="840.00" y="858.96"/>
<use href="#music" x="466.67" y="954.40"/>
<use href="#music" x="560.00" y="954.40"/>
<use href="#music" x="653.33" y="954.40"/>
<use href="#music" x="746.67" y="954.40"/>
<use href="#music" x="840.00" y="954.40"/>
<use href="#cake" x="933.33" y="0.00"/>
<use href="#cake" x="1026.67" y="0.00"/>
<use href="#cake" x="1120.00" y="0.00"/>
<use href="#cake" x="1213.33" y="0.00"/>
<use href="#cake" x="1306.67" y="0.00"/>
<use href="#snowman" x="933.33" y="95.44"/>
<use href="#snowman" x="1026.67" y="95.44"/>
<use href="#snowman" x="1120.00" y="95.44"/>
<use href="#snowman" x="1213.33" y="95.44"/>
<use href="#bauble" x="1306.67" y="95.44"/>
<use href="#tree" x="933.33" y="190.88"/>
<use href="#tree" x="1026.67" y="190.88"/>
<use href="#tree" x="1120.00" y="190.88"/>
<use href="#tree" x="1213.33" y="190.88"/>
<use href="#bauble" x="1306.67" y="190.88"/>
<use href="#scissors" x="933.33" y="286.32"/>
<use href="#scissors" x="1026.67" y="286.32"/>
<use href="#scissors" x="1120.00" y="286.32"/>
<use href="#scissors" x="1213.33" y="286.32"/>
<use href="#scissors" x="1306.67" y="286.32"/>
<use href="#scissors" x="933.33" y="381.76"/>
<use href="#scissors" x="1026.67" y="381.76"/>
<use href="#scissors" x="1120.00" y="381.76"/>
<use href="#scissors" x="1213.33" y="381.76"/>
<use href="#scissors" x="1306.67" y="381.76"/>
<use href="#wine" x="933.33" y="477.20"/>
<use href="#wine" x="1026.67" y="477.20"/>
<use href="#wine" x="1120.00" y="477.20"/>
<use href="#wine" x="1213.33" y="477.20"/>
<use href="#wine" x="1306.67" y="477.20"/>
<use href="#cocktail" x="933.33" y="572.64"/>
<use href="#cocktail" x="1026.67" y="572.64"/>
<use href="#cocktail" x="1120.00" y="572.64"/>
<use href="#cocktail" x="1213.33" y="572.64"/>
<use href="#cocktail" x="1306.67" y="572.64"/>
<use href="#wine" x="933.33" y="668.08"/>
<use href="#wine" x="1026.67" y="668.08"/>
<use href="#wine" x="1120.00" y="668.08"/>
<use href="#wine" x="1213.33" y="668.08"/>
<use href="#wine" x="1306.67" y="668.08"/>
<use href="#backpack" x="933.33" y="763.52"/>
<use href="#backpack" x="1026.67" y="763.52"/>
<use href="#backpack" x="1120.00" y="763.52"/>
<use href="#backpack" x="1213.33" y="763.52"/>
<use href="#backpack" x="1306.67" y="763.52"/>
<use href="#backpack" x="933.33" y="858.96"/>
<use href="#backpack" x="1026.67" y="858.96"/>
<use href="#backpack" x="1120.00" y="858.96"/>
<use href="#backpack" x="1213.33" y="858.96"/>
<use href="#backpack" x="1306.67" y="858.96"/>
<use href="#champagne" x="933.33" y="954.40"/>
<use href="#champagne" x="1026.67" y="954.40"/>
<use href="#champagne" x="1120.00" y="954.40"/>
<use href="#champagne" x="1213.33" y="954.40"/>
<use href="#champagne" x="1306.67" y="954.40"/>
<g><text x="700.70" y="1092.60" textLength="106.5" lengthAdjust="spacingAndGlyphs" font-size="25.2">DÉPART</text>
<text x="700.30" y="1121.60" textLength="188.5" lengthAdjust="spacingAndGlyphs" font-size="25.2">EN VACANCES</text>
<text x="700.70" y="1188.04" textLength="106.5" lengthAdjust="spacingAndGlyphs" font-size="25.2">DÉPART</text>
<text x="700.30" y="1217.04" textLength="188.5" lengthAdjust="spacingAndGlyphs" font-size="25.2">EN VACANCES</text>
<text x="700.00" y="1274.29" textLength="238.5" lengthAdjust="spacingAndGlyphs" font-size="25.2">NE PAS OUBLIER !</text>
<text x="700.00" y="1322.01" textLength="238.5" lengthAdjust="spacingAndGlyphs" font-size="25.2">NE PAS OUBLIER !</text>
<text x="700.00" y="1369.73" textLength="238.5" lengthAdjust="spacingAndGlyphs" font-size="25.2">NE PAS OUBLIER !</text>
<text x="980.70" y="1092.60" textLength="106.5" lengthAdjust="spacingAndGlyphs" font-size="25.2">DÉPART</text>
<text x="980.30" y="1121.60" textLength="188.5" lengthAdjust="spacingAndGlyphs" font-size="25.2">EN VACANCES</text>
<text x="980.70" y="1188.04" textLength="106.5" lengthAdjust="spacingAndGlyphs" font-size="25.2">DÉPART</text>
<text x="980.30" y="1217.04" textLength="188.5" lengthAdjust="spacingAndGlyphs" font-size="25.2">EN VACANCES</text>
<text x="980.00" y="1274.29" textLength="238.5" lengthAdjust="spacingAndGlyphs" font-size="25.2">NE PAS OUBLIER !</text>
<text x="980.00" y="1322.01" textLength="238.5" lengthAdjust="spacingAndGlyphs" font-size="25.2">NE PAS OUBLIER !</text>
<text x="980.00" y="1369.73" textLength="238.5" lengthAdjust="spacingAndGlyphs" font-size="25.2">NE PAS OUBLIER !</text>
<text x="1260.70" y="1092.60" textLength="106.5" lengthAdjust="spacingAndGlyphs" font-size="25.2">DÉPART</text>
<text x="1260.30" y="1121.60" textLength="188.5" lengthAdjust="spacingAndGlyphs" font-size="25.2">EN VACANCES</text>
<text x="1260.70" y="1188.04" textLength="106.5" lengthAdjust="spacingAndGlyphs" font-size="25.2">DÉPART</text>
<text x="1260.30" y="1217.04" textLength="188.5" lengthAdjust="spacingAndGlyphs" font-size="25.2">EN VACANCES</text>
<text x="1260.00" y="1274.29" textLength="238.5" lengthAdjust="spacingAndGlyphs" font-size="25.2">NE PAS OUBLIER !</text>
<text x="1260.00" y="1322.01" textLength="238.5" lengthAdjust="spacingAndGlyphs" font-size="25.2">NE PAS OUBLIER !</text>
<text x="1260.00" y="1369.73" textLength="238.5" lengthAdjust="spacingAndGlyphs" font-size="25.2">NE PAS OUBLIER !</text>
<text x="139.70" y="1417.26" textLength="125.5" lengthAdjust="spacingAndGlyphs" font-size="25.2">URGENT !</text>
<text x="143.20" y="1465.18" textLength="165.0" lengthAdjust="spacingAndGlyphs" font-size="25.2">IMPORTANT</text>
<text x="143.20" y="1513.10" textLength="165.0" lengthAdjust="spacingAndGlyphs" font-size="25.2">IMPORTANT</text>
<text x="140.00" y="1560.62" textLength="191.5" lengthAdjust="spacingAndGlyphs" font-size="25.2">RENDEZ-VOUS</text>
<text x="419.70" y="1417.26" textLength="125.5" lengthAdjust="spacingAndGlyphs" font-size="25.2">URGENT !</text>
<text x="423.20" y="1465.18" textLength="165.0" lengthAdjust="spacingAndGlyphs" font-size="25.2">IMPORTANT</text>
<text x="423.20" y="1513.10" textLength="165.0" lengthAdjust="spacingAndGlyphs" font-size="25.2">IMPORTANT</text>
<text x="420.00" y="1560.62" textLength="191.5" lengthAdjust="spacingAndGlyphs" font-size="25.2">RENDEZ-VOUS</text>
<text x="699.70" y="1417.26" textLength="125.5" lengthAdjust="spacingAndGlyphs" font-size="25.2">URGENT !</text>
<text x="703.20" y="1465.18" textLength="165.0" lengthAdjust="spacingAndGlyphs" font-size="25.2">IMPORTANT</text>
<text x="703.20" y="1513.10" textLength="165.0" lengthAdjust="spacingAndGlyphs" font-size="25.2">IMPORTANT</text>
<text x="700.00" y="1560.62" textLength="191.5" lengthAdjust="spacingAndGlyphs" font-size="25.2">RENDEZ-VOUS</text>
<text x="979.70" y="1417.26" textLength="125.5" lengthAdjust="spacingAndGlyphs" font-size="25.2">URGENT !</text>
<text x="983.20" y="1465.18" textLength="165.0" lengthAdjust="spacingAndGlyphs" font-size="25.2">IMPORTANT</text>
<text x="983.20" y="1513.10" textLength="165.0" lengthAdjust="spacingAndGlyphs" font-size="25.2">IMPORTANT</text>
<text x="980.00" y="1560.62" textLength="191.5" lengthAdjust="spacingAndGlyphs" font-size="25.2">RENDEZ-VOUS</text>
<text x="1259.70" y="1417.26" textLength="125.5" lengthAdjust="spacingAndGlyphs" font-size="25.2">URGENT !</text>
<text x="1263.20" y="1465.18" textLength="165.0" lengthAdjust="spacingAndGlyphs" font-size="25.2">IMPORTANT</text>
<text x="1263.20" y="1513.10" textLength="165.0" lengthAdjust="spacingAndGlyphs" font-size="25.2">IMPORTANT</text>
<text x="1260.00" y="1560.62" textLength="191.5" lengthAdjust="spacingAndGlyphs" font-size="25.2">RENDEZ-VOUS</text>
<text x="140.00" y="1608.34" textLength="191.5" lengthAdjust="spacingAndGlyphs" font-size="25.2">RENDEZ-VOUS</text>
<text x="140.30" y="1656.07" textLength="124.5" lengthAdjust="spacingAndGlyphs" font-size="25.2">APPELER</text>
<text x="140.30" y="1703.79" textLength="124.5" lengthAdjust="spacingAndGlyphs" font-size="25.2">APPELER</text>
<text x="140.30" y="1751.51" textLength="124.5" lengthAdjust="spacingAndGlyphs" font-size="25.2">APPELER</text>
<text x="140.50" y="1799.23" textLength="181.5" lengthAdjust="spacingAndGlyphs" font-size="25.2">BABY-SITTER</text>
<text x="140.50" y="1846.96" textLength="181.5" lengthAdjust="spacingAndGlyphs" font-size="25.2">BABY-SITTER</text>
<text x="140.50" y="1894.68" textLength="181.5" lengthAdjust="spacingAndGlyphs" font-size="25.2">BABY-SITTER</text>
<text x="420.00" y="1608.34" textLength="191.5" lengthAdjust="spacingAndGlyphs" font-size="25.2">RENDEZ-VOUS</text>
<text x="420.30" y="1656.07" textLength="124.5" lengthAdjust="spacingAndGlyphs" font-size="25.2">APPELER</text>
<text x="420.30" y="1703.79" textLength="124.5" lengthAdjust="spacingAndGlyphs" font-size="25.2">APPELER</text>
<text x="420.30" y="1751.51" textLength="124.5" lengthAdjust="spacingAndGlyphs" font-size="25.2">APPELER</text>
<text x="420.50" y="1799.23" textLength="181.5" lengthAdjust="spacingAndGlyphs" font-size="25.2">BABY-SITTER</text>
<text x="420.50" y="1846.96" textLength="181.5" lengthAdjust="spacingAndGlyphs" font-size="25.2">BABY-SITTER</text>
<text x="420.50" y="1894.68" textLength="181.5" lengthAdjust="spacingAndGlyphs" font-size="25.2">BABY-SITTER</text>
<text x="700.00" y="1608.34" textLength="191.5" lengthAdjust="spacingAndGlyphs" font-size="25.2">RENDEZ-VOUS</text>
<text x="700.30" y="1656.07" textLength="124.5" lengthAdjust="spacingAndGlyphs" font-size="25.2">APPELER</text>
<text x="700.30" y="1703.79" textLength="124.5" lengthAdjust="spacingAndGlyphs" font-size="25.2">APPELER</text>
<text x="700.30" y="1751.51" textLength="124.5" lengthAdjust="spacingAndGlyphs" font-size="25.2">APPELER</text>
<text x="700.50" y="1799.23" textLength="181.5" lengthAdjust="spacingAndGlyphs" font-size="25.2">BABY-SITTER</text>
<text x="700.50" y="1846.96" textLength="181.5" lengthAdjust="spacingAndGlyphs" font-size="25.2">BABY-SITTER</text>
<text x="700.50" y="1894.68" textLength="181.5" lengthAdjust="spacingAndGlyphs" font-size="25.2">BABY-SITTER</text></g>
</svg></body></html>
